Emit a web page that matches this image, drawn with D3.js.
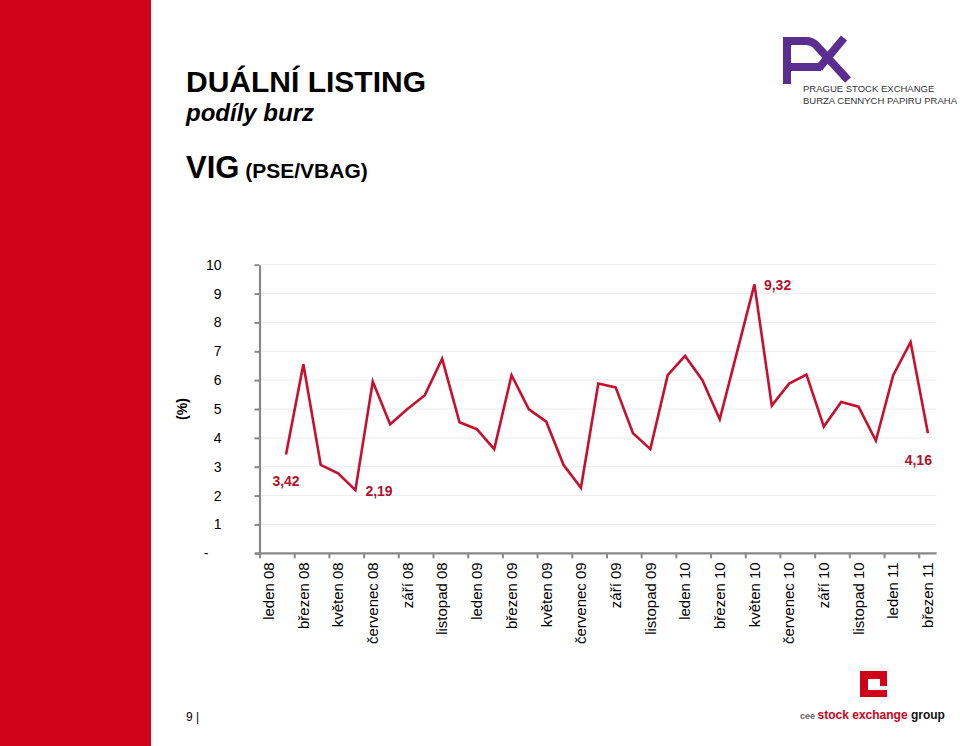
<!DOCTYPE html>
<html><head><meta charset="utf-8">
<script src="https://cdn.jsdelivr.net/npm/d3@7"></script>
<style>
html,body{margin:0;padding:0;background:#fff;}
svg{display:block;font-family:"Liberation Sans",Arial,sans-serif;}
</style></head>
<body>
<svg id="c" width="960" height="746"></svg>
<script>
// ---- data ----
const categories = [
 "leden 08","únor 08","březen 08","duben 08","květen 08","červen 08","červenec 08","srpen 08","září 08","říjen 08","listopad 08","prosinec 08",
 "leden 09","únor 09","březen 09","duben 09","květen 09","červen 09","červenec 09","srpen 09","září 09","říjen 09","listopad 09","prosinec 09",
 "leden 10","únor 10","březen 10","duben 10","květen 10","červen 10","červenec 10","srpen 10","září 10","říjen 10","listopad 10","prosinec 10",
 "leden 11","únor 11","březen 11"];
const shareValues = [null,
 3.42,6.55,3.06,2.77,2.19,5.95,4.47,5.0,5.48,6.74,4.54,4.30,3.61,6.17,4.99,4.56,
 3.06,2.27,5.88,5.75,4.16,3.61,6.17,6.84,6.0,4.64,6.98,9.32,5.12,5.88,6.19,4.39,5.24,5.08,3.90,6.17,7.32,4.16];
const yTicks = [0,1,2,3,4,5,6,7,8,9,10];
const xTickLabels = categories.filter((d,i)=>i%2===0);
const annotated = [1,5,28,38];

const svg = d3.select("#c");
const RED = "#c8102e";

// red side panel
svg.append("rect").attr("x",0).attr("y",0).attr("width",151).attr("height",746).attr("fill","#d0011b");

// titles
svg.append("text").attr("x",186).attr("y",92).attr("font-size",30).attr("font-weight","bold").attr("fill","#000").text("DUÁLNÍ LISTING");
svg.append("text").attr("x",186).attr("y",121).attr("font-size",24).attr("font-weight","bold").attr("font-style","italic").attr("fill","#000").text("podíly burz");
const t3 = svg.append("text").attr("x",186).attr("y",178).attr("font-weight","bold").attr("fill","#000");
t3.append("tspan").attr("font-size",31).text("VIG");
t3.append("tspan").attr("font-size",21).text(" (PSE/VBAG)");

// PX logo
const px = svg.append("g").attr("fill","none").attr("stroke","#5c2d91").attr("stroke-width",8).attr("stroke-linecap","butt");
px.append("path").attr("d","M787,84 V41 H806 Q812,41 816,45 L848,80");
px.append("path").attr("d","M791,67 H821");
px.append("path").attr("d","M844,38 L819,68");
svg.append("text").attr("x",803).attr("y",92).attr("font-size",9.5).attr("fill","#333").text("PRAGUE STOCK EXCHANGE");
svg.append("text").attr("x",803).attr("y",104).attr("font-size",9.5).attr("fill","#333").text("BURZA CENNYCH PAPIRU PRAHA");

// chart
const x = d3.scaleBand().domain(categories).range([260,936.6]).padding(0);
const y = d3.scaleLinear().domain([0,10]).range([553.3,264.7]);

// gridlines
svg.append("g").selectAll("line").data(yTicks.filter(d=>d>0)).join("line")
  .attr("x1",260).attr("x2",936.6).attr("y1",d=>y(d)).attr("y2",d=>y(d))
  .attr("stroke","#ececec").attr("stroke-width",1);

// y axis
const yAxis = svg.append("g").attr("transform","translate(259.5,0)")
  .call(d3.axisLeft(y).tickValues(yTicks).tickSize(5).tickSizeOuter(0).tickPadding(33)
    .tickFormat(d=>d===0?"-":String(d)));
yAxis.select(".domain").attr("stroke","#888").attr("stroke-width",2.2);
yAxis.selectAll(".tick line").attr("stroke","#888").attr("stroke-width",2);
yAxis.selectAll(".tick text").attr("font-size",14).attr("fill","#000").attr("font-family","Liberation Sans, Arial, sans-serif");
yAxis.selectAll(".tick text").filter(d=>d===0).attr("dx",-13);

// x axis
const xAxis = svg.append("g").attr("transform","translate(0,553.3)")
  .call(d3.axisBottom(x).tickValues(xTickLabels).tickSize(5).tickSizeOuter(0));
xAxis.select(".domain").attr("d","M255,0H936.6").attr("stroke","#888").attr("stroke-width",2.2);
xAxis.selectAll(".tick line").attr("stroke","#888").attr("stroke-width",2).attr("x1",-x.bandwidth()/2).attr("x2",-x.bandwidth()/2);
xAxis.selectAll(".tick text").attr("font-size",15).attr("fill","#000").attr("font-family","Liberation Sans, Arial, sans-serif")
  .attr("text-anchor","end").attr("transform","translate(0,9) rotate(-90)").attr("x",0).attr("y",0).attr("dy","0.35em");

// y axis title
svg.append("text").attr("transform","translate(182,409) rotate(-90)").attr("text-anchor","middle").attr("dy","0.35em")
  .attr("font-size",14).attr("font-weight","bold").attr("fill","#000").text("(%)");

// line
const pts = categories.map((c,i)=>({c, v:shareValues[i], i}));
const line = d3.line().defined(d=>d.v!=null).x(d=>x(d.c)+x.bandwidth()/2).y(d=>y(d.v));
svg.append("path").datum(pts).attr("d",line).attr("fill","none").attr("stroke",RED).attr("stroke-width",2.6).attr("stroke-linejoin","miter");

// annotations
const fmt = v=>String(v.toFixed(2)).replace(".",",");
const offs = {1:{dx:0,dy:27,a:"middle"},5:{dx:10,dy:1,a:"start"},28:{dx:9.5,dy:1,a:"start"},38:{dx:4,dy:27,a:"end"}};
svg.append("g").selectAll("text").data(annotated).join("text")
  .attr("x",i=>x(categories[i])+x.bandwidth()/2+offs[i].dx)
  .attr("y",i=>y(shareValues[i])+offs[i].dy)
  .attr("dy","0.35em").attr("text-anchor",i=>offs[i].a)
  .attr("font-size",14).attr("font-weight","bold").attr("fill","#b3112e")
  .text(i=>fmt(shareValues[i]));

// footer
svg.append("text").attr("x",186).attr("y",721).attr("font-size",12).attr("fill","#000").text("9 |");
svg.append("path").attr("fill","#d0011b").attr("fill-rule","evenodd")
  .attr("d","M860,671H887V686H880V679H868V690H887V697H860Z");
const ft = svg.append("text").attr("x",800).attr("y",719).attr("font-weight","bold");
ft.append("tspan").attr("font-size",9).attr("fill","#666").text("cee ");
ft.append("tspan").attr("font-size",12).attr("fill","#d0011b").text("stock exchange ");
ft.append("tspan").attr("font-size",12).attr("fill","#111").text("group");
</script>
</body></html>
